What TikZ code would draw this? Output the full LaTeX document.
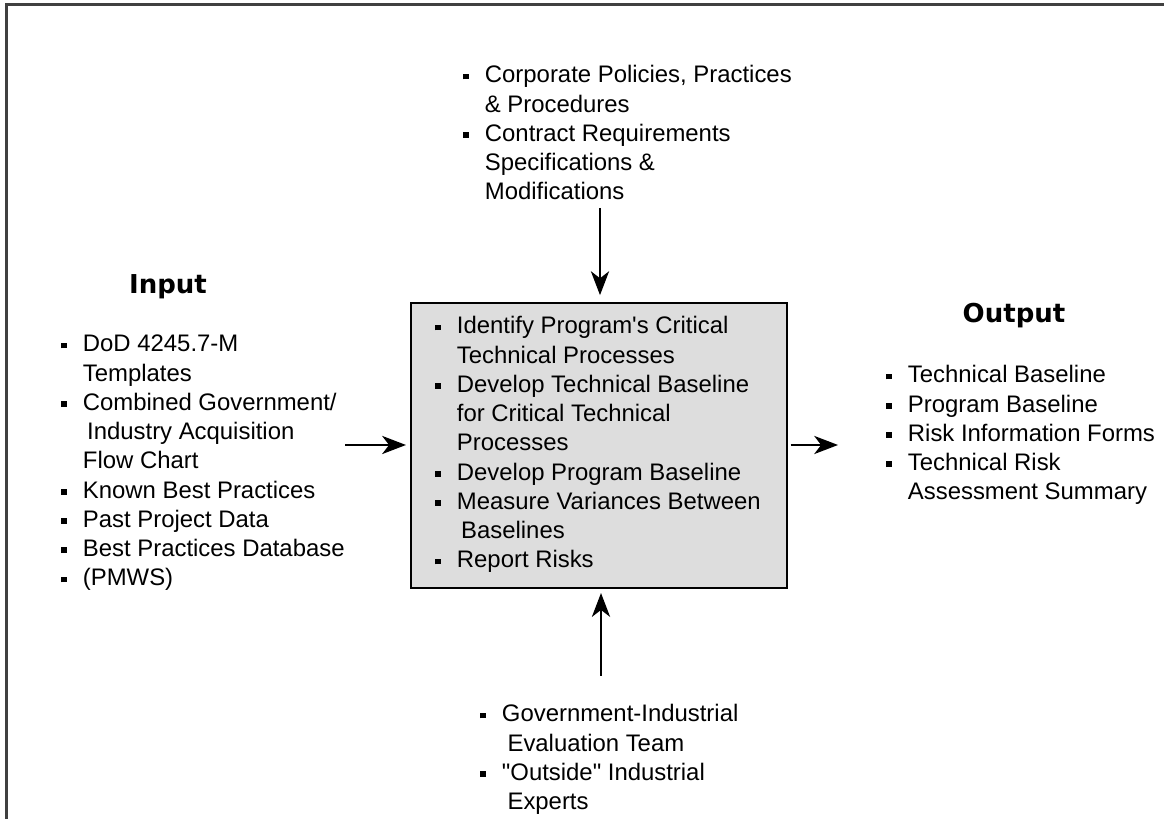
\documentclass[tikz,border=0pt]{standalone}
\usepackage{fontspec}
\newfontfamily\bodyfont{Liberation Sans}
\newfontfamily\headfont{DejaVu Sans}
\RequirePackage{xcolor}
\definecolor{boxgray}{RGB}{221,221,221}
\definecolor{framegray}{RGB}{64,64,64}
\newlength{\bulw}\setlength{\bulw}{15.4pt}
\newcommand{\bul}{\rule[2.6pt]{4pt}{4pt}}
\newcommand{\blist}[1]{\begin{tabular}[t]{@{}p{\bulw}@{}l@{}}#1\end{tabular}}
\tikzset{every picture/.style={/utils/exec={\bodyfont\fontsize{17}{20.8}\selectfont}}}
\tikzset{itemlist/.style={anchor=base west, inner sep=0pt}}
\tikzset{heading/.style={anchor=base, inner sep=0pt, font=\headfont\bfseries\fontsize{18.5}{22}\selectfont}}
\tikzset{procbox/.style={draw=black, line width=1.2pt, fill=boxgray, minimum width=9.4cm, minimum height=7.125cm, inner sep=0pt}}
\tikzset{flow/.style={-{Stealth[length=17pt,width=13pt,inset=5pt]}, line width=1pt}}
\usetikzlibrary{arrows.meta}
\usetikzlibrary{positioning}

\begin{document}
\begin{tikzpicture}
  \useasboundingbox (0,0) rectangle (29.1,20.475);

  % frame, only top and left edge show
  \draw [framegray, line width=2.2pt] (0.16,0) |- (29.1,20.36);

  % process box
  \node [procbox] (proc) at (14.975,9.3375) {};
  \node [itemlist] (proctext) at (10.875,12.125) {\blist{%
    \bul & Identify Program's Critical\\
    & Technical Processes\\
    \bul & Develop Technical Baseline\\
    & for Critical Technical\\
    & Processes\\
    \bul & Develop Program Baseline\\
    \bul & Measure Variances Between\\
    & \hspace{3pt}Baselines\\
    \bul & Report Risks}};

  % controls (top)
  \node [itemlist] (ctrl) at (11.575,18.4) {\blist{%
    \bul & Corporate Policies, Practices\\
    & \& Procedures\\
    \bul & Contract Requirements\\
    & Specifications \&\\
    & Modifications}};

  % input
  \node [heading] (inhead) at (4.2,13.125) {Input};
  \node [itemlist] (inlist) at (1.525,11.675) {\blist{%
    \bul & DoD 4245.7-M\\
    & Templates\\
    \bul & Combined Government/\\
    & \hspace{3pt}Industry Acquisition\\
    & Flow Chart\\
    \bul & Known Best Practices\\
    \bul & Past Project Data\\
    \bul & Best Practices Database\\
    \bul & (PMWS)}};

  % output
  \node [heading] (outhead) at (25.35,12.4) {Output};
  \node [itemlist] (outlist) at (22.15,10.9) {\blist{%
    \bul & Technical Baseline\\
    \bul & Program Baseline\\
    \bul & Risk Information Forms\\
    \bul & Technical Risk\\
    & Assessment Summary}};

  % mechanisms (bottom)
  \node [itemlist] (mech) at (12.0,2.425) {\blist{%
    \bul & Government-Industrial\\
    & \hspace{4pt}Evaluation Team\\
    \bul & "Outside" Industrial\\
    & \hspace{4pt}Experts}};

  % arrows
  \coordinate (topbeg) at (15,15.275);
  \coordinate (botbeg) at (15.025,3.575);
  \coordinate (inbeg) at (8.625,9.35);
  \coordinate (outend) at (20.95,9.35);
  \draw [flow, shorten >=5pt] (topbeg) -- (topbeg |- proc.north);
  \draw [flow, shorten >=3pt] (botbeg) -- (botbeg |- proc.south);
  \draw [flow, shorten >=3pt] (inbeg) -- (inbeg -| proc.west);
  \draw [flow, shorten <=2pt] (outend -| proc.east) -- (outend);
\end{tikzpicture}
\end{document}
